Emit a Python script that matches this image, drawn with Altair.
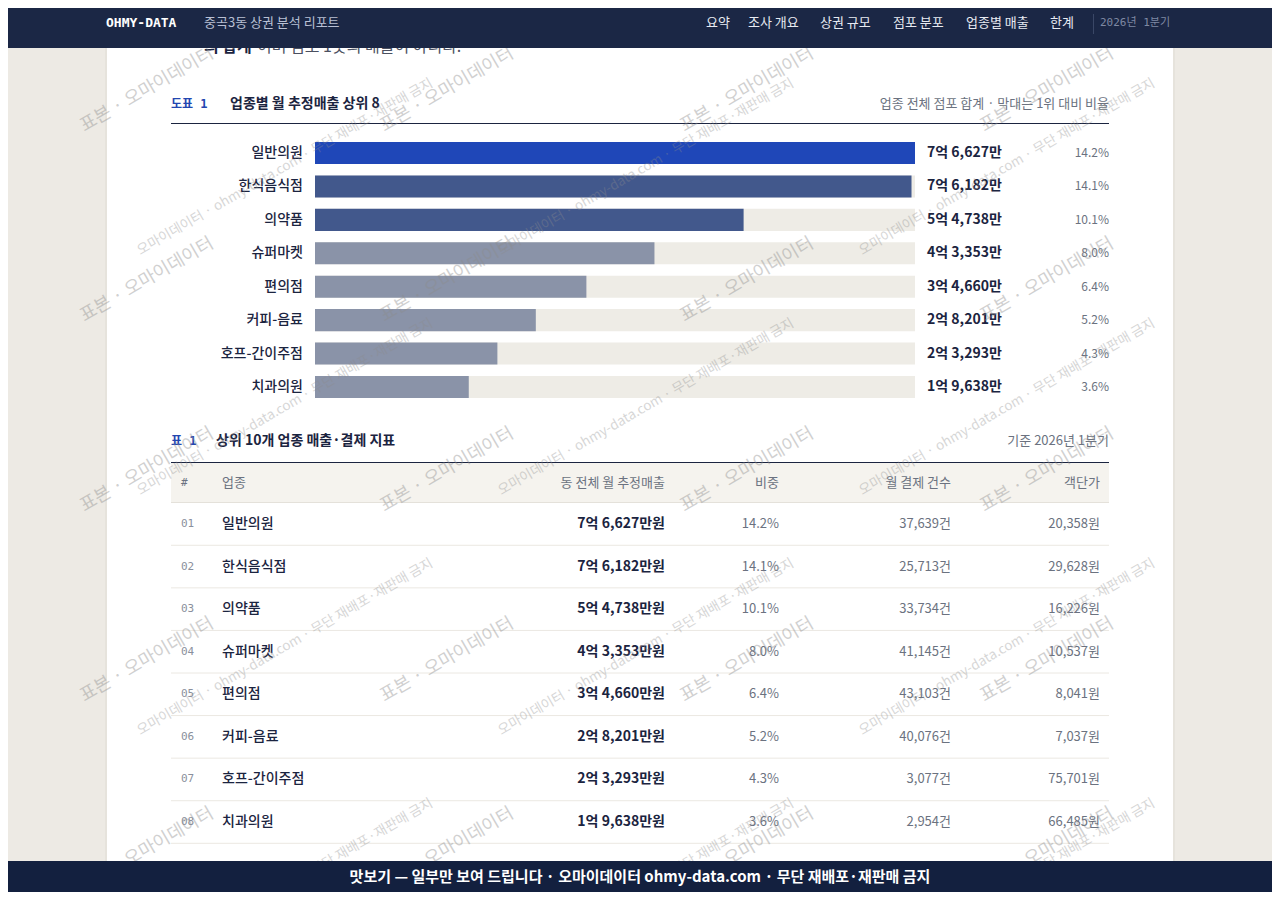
import altair as alt
import pandas as pd

# values (sales in 만원)
categories = ["일반의원", "한식음식점", "의약품", "슈퍼마켓", "편의점", "커피-음료", "호프-간이주점", "치과의원"]
sales_man = [76627, 76182, 54738, 43353, 34660, 28201, 23293, 19638]
share_pct = [14.2, 14.1, 10.1, 8.0, 6.4, 5.2, 4.3, 3.6]
payments = [37639, 25713, 33734, 41145, 43103, 40076, 3077, 2954]
ticket_won = [20358, 29628, 16226, 10537, 8041, 7037, 75701, 66485]
nav_items = ["요약", "조사 개요", "상권 규모", "점포 분포", "업종별 매출", "한계"]

SANS = "Noto Sans CJK KR"
MONO = "DejaVu Sans Mono, Noto Sans CJK KR"
NAVY = "#1b2745"
INK = "#1b2440"
GRAY = "#6b7280"
bar_colors = ["#1f47b8", "#42588c", "#42588c", "#8a93a8", "#8a93a8", "#8a93a8", "#8a93a8", "#8a93a8"]

W, H = 1264, 884


def won_label(v):
    return f"{v // 10000}억 {v % 10000:,}만"


df = pd.DataFrame({
    "category": categories,
    "sales": sales_man,
    "rank": [f"{i + 1:02d}" for i in range(len(categories))],
})
df["sales_label"] = [won_label(v) for v in sales_man]
df["sales_won"] = [won_label(v) + "원" for v in sales_man]
df["share_label"] = [f"{v:.1f}%" for v in share_pct]
df["pay_label"] = [f"{v:,}건" for v in payments]
df["ticket_label"] = [f"{v:,}원" for v in ticket_won]

one = pd.DataFrame({"k": [0]})


def box(x, x2, y, y2, color):
    return alt.Chart(one).mark_rect(color=color).encode(
        x=alt.value(x), x2=alt.value(x2), y=alt.value(y), y2=alt.value(y2))


def label(text, x, y, size=13, color=INK, weight="normal", align="left", font=SANS):
    return alt.Chart(one).mark_text(
        align=align, baseline="middle", fontSize=size, color=color,
        fontWeight=weight, font=font
    ).encode(x=alt.value(x), y=alt.value(y), text=alt.value(text))


# ---- page panel ----
panel = [
    box(97, 1167, 40, 853, "#e6e3dc"),
    box(99, 1165, 40, 853, "white"),
    # last line of the intro paragraph, mostly hidden under the top bar
    label("의 합계", 196, 39, size=16, weight="bold"),
    label("이며 점포 1곳의 매출이 아니다.", 249, 39, size=16, color="#4b5060"),
]

# ---- chart 1 header ----
head1 = [
    label("도표 1", 163, 96, size=12, color="#2346b0", weight="bold", font=MONO),
    label("업종별 월 추정매출 상위 8", 222, 96, size=14, weight="bold"),
    label("업종 전체 점포 합계 · 막대는 1위 대비 비율", 1101, 96, size=13, color=GRAY, align="right"),
    box(163, 1101, 115, 116, INK),
]

y_bar = alt.Y("category:N", sort=categories, axis=None,
              scale=alt.Scale(domain=categories, range=[128.3, 395.7],
                              paddingInner=0.34, paddingOuter=0.17))
x_bar = alt.X("sales:Q", axis=None,
              scale=alt.Scale(domain=[0, max(sales_man)], range=[307, 907]))

base = alt.Chart(df)
track = base.mark_bar(color="#eeece6").encode(x=alt.value(307), x2=alt.value(907), y=y_bar)
bars = base.mark_bar().encode(
    x=x_bar, y=y_bar,
    color=alt.Color("category:N", legend=None,
                    scale=alt.Scale(domain=categories, range=bar_colors)))
cat_text = base.mark_text(align="right", baseline="middle", fontSize=14, font=SANS,
                          color=INK, fontWeight=500).encode(
    x=alt.value(295), y=y_bar, text="category:N")
val_text = base.mark_text(align="left", baseline="middle", fontSize=14, font=SANS,
                          color=INK, fontWeight="bold").encode(
    x=alt.value(919), y=y_bar, text="sales_label:N")
pct_text = base.mark_text(align="right", baseline="middle", fontSize=12, font=SANS,
                          color=GRAY).encode(
    x=alt.value(1101), y=y_bar, text="share_label:N")

# ---- table ----
head2 = [
    label("표 1", 163, 433, size=12, color="#2346b0", weight="bold", font=MONO),
    label("상위 10개 업종 매출·결제 지표", 208, 433, size=14, weight="bold"),
    label("기준 2026년 1분기", 1101, 433, size=13, color=GRAY, align="right"),
    box(163, 1101, 454, 455, INK),
    box(163, 1101, 455, 495, "#f5f3ee"),
    box(163, 1101, 494, 495, "#e4e1da"),
    label("#", 173, 475, size=11, color=GRAY, font=MONO),
    label("업종", 214, 475, size=13, color=GRAY),
    label("동 전체 월 추정매출", 657, 475, size=13, color=GRAY, align="right"),
    label("비중", 771, 475, size=13, color=GRAY, align="right"),
    label("월 결제 건수", 943, 475, size=13, color=GRAY, align="right"),
    label("객단가", 1092, 475, size=13, color=GRAY, align="right"),
]

ranks = list(df["rank"])
row_scale = alt.Scale(domain=ranks, range=[494.7, 835.3], paddingInner=0, paddingOuter=0)
y_row = alt.Y("rank:O", axis=None, scale=row_scale)
sep = base.mark_rule(color="#ebe8e2").encode(
    x=alt.value(163), x2=alt.value(1101),
    y=alt.Y("rank:O", axis=None, bandPosition=1, scale=row_scale))


def col(field, x, align="right", size=13, color=GRAY, weight="normal", font=SANS):
    return base.mark_text(align=align, baseline="middle", fontSize=size, font=font,
                          color=color, fontWeight=weight).encode(
        x=alt.value(x), y=y_row, text=f"{field}:N")


table = [
    sep,
    col("rank", 173, align="left", size=11, color="#8a8f9c", font=MONO),
    col("category", 214, align="left", size=14, color=INK, weight=500),
    col("sales_won", 657, size=14, color=INK, weight="bold"),
    col("share_label", 771),
    col("pay_label", 943),
    col("ticket_label", 1092),
]

# ---- sample watermark tiles ----
wm_a = pd.DataFrame([(139 + 300 * i, 82 + 190 * j) for i in range(5) for j in range(5)],
                    columns=["px", "py"])
wm_b = pd.DataFrame([(277 + 361 * i, 159 + 240 * j) for i in range(3) for j in range(4)],
                    columns=["px", "py"])
marks_a = alt.Chart(wm_a).mark_text(
    angle=330, fontSize=18, font=SANS, color="#8c8c8c", opacity=0.4,
    align="center", baseline="middle"
).encode(x=alt.X("px:Q", scale=None), y=alt.Y("py:Q", scale=None),
         text=alt.value("표본 · 오마이데이터"))
marks_b = alt.Chart(wm_b).mark_text(
    angle=330, fontSize=13.5, font=SANS, color="#8c8c8c", opacity=0.35,
    align="center", baseline="middle"
).encode(x=alt.X("px:Q", scale=None), y=alt.Y("py:Q", scale=None),
         text=alt.value("오마이데이터 · ohmy-data.com · 무단 재배포·재판매 금지"))

# ---- top bar and footer ----
topbar = [
    box(0, W, 0, 40, NAVY),
    label("OHMY-DATA", 98, 15, size=13, color="white", weight="bold", font=MONO),
    label("중곡3동 상권 분석 리포트", 196, 15, size=13, color="#b9c0d4"),
    box(1085, 1086, 6, 26, "#3a4766"),
    label("2026년 1분기", 1092, 15, size=11, color="#7f89a3", font=MONO),
]
nav_x = [698, 740, 812, 885, 958, 1042]
for t, x in zip(nav_items, nav_x):
    topbar.append(label(t, x, 15, size=13, color="#e8ebf2"))

footer = [
    box(0, W, 853, H, "#13203f"),
    label("맛보기 — 일부만 보여 드립니다 · 오마이데이터 ohmy-data.com · 무단 재배포·재판매 금지",
          632, 869, size=15, color="white", weight="bold", align="center"),
]

layers = (panel + head1 + [track, bars, cat_text, val_text, pct_text] + head2 + table
          + [marks_a, marks_b] + topbar + footer)

chart = alt.layer(*layers).resolve_scale(
    x="independent", y="independent", color="independent"
).properties(
    width=W, height=H,
    autosize=alt.AutoSizeParams(type="none"),
    padding=0,
    background="#edeae4",
).configure_view(stroke=None)

chart.save("out.html", embed_options={"renderer": "svg", "actions": False})
